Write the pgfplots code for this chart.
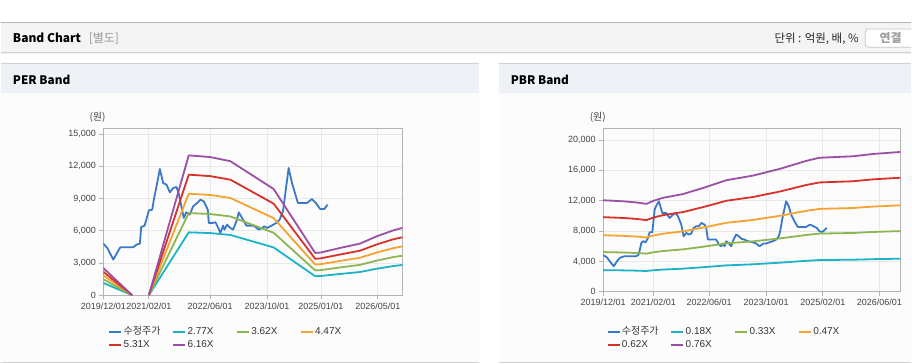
\documentclass[border=0pt]{standalone}
\usepackage{fontspec}
\setmainfont{Liberation Sans}
\newfontfamily\kr{Noto Sans CJK KR}
\usepackage{pgfplots}
\pgfplotsset{compat=1.18}
\usepackage{pgfplotstable}

\definecolor{cprice}{HTML}{3A78C8}
\definecolor{cbA}{HTML}{1CB3C8}
\definecolor{cbB}{HTML}{8DB650}
\definecolor{cbC}{HTML}{F5A431}
\definecolor{cbD}{HTML}{D6312B}
\definecolor{cbE}{HTML}{9A50A5}
\definecolor{gridc}{HTML}{E8E8E8}
\definecolor{axc}{HTML}{B4B4B4}
\definecolor{tickc}{HTML}{444444}
\definecolor{legc}{HTML}{333333}
\definecolor{hdrbg}{HTML}{F4F4F4}
\definecolor{panbg}{HTML}{EEF2F7}
\definecolor{bodybg}{HTML}{FCFCFC}
\definecolor{linec}{HTML}{D2D2D2}

% PER: price (x in months from 2019/12, value in won)
\pgfplotstableread{
m v
0 4803
1.12 4400
2.8 3316
4.67 4400
4.86 4463
8.41 4463
9.35 4710
10.28 4803
10.65 6353
11.59 6477
12.15 7097
12.8 7902
13.74 7964
14.2 8894
14.95 10134
15.89 11745
16.82 10444
17.76 10289
18.69 9576
19.63 9979
20.56 10072
21.2 9452
22.6 7190
23.27 7717
24.3 7500
25.23 8274
26.36 8584
27.29 8894
28.22 8739
28.69 8429
29.35 7964
29.63 6725
30.56 6725
31.5 6787
32.43 6167
32.9 5795
33.64 6477
34.02 6105
34.77 6570
35.7 6260
36.45 6105
37.57 7035
38.04 7717
38.97 7190
40.19 6477
42.24 6477
43.64 6105
44.58 6260
45.23 6415
45.98 6260
46.92 6415
48.6 6725
49.53 7035
50.47 7809
52.06 11838
52.99 10444
54.67 8584
57.2 8584
58.6 8956
59.53 8646
60.93 8026
62.06 8026
62.99 8429
}\perprice

% PER bands
\pgfplotstableread{
m a b c d e
0 1141 1491 1842 2188 2538
8.1 0 0 0 0 0
9 nan nan nan nan nan
12.8 0 0 0 0 0
24.0 5853 7649 9445 11220 13016
30.0 5784 7559 9333 11087 12862
35.7 5609 7331 9052 10753 12474
47.85 4446 5810 7174 8523 9887
59.5 1770 2313 2856 3393 3936
61.0 1787 2335 2883 3425 3973
66.5 1978 2585 3192 3791 4398
72.1 2161 2824 3487 4142 4805
76.8 2465 3222 3978 4726 5482
81.5 2717 3551 4385 5209 6043
84 2814 3678 4542 5395 6259
}\perband

% PBR: price
\pgfplotstableread{
m v
0 4825
0.94 4605
1.88 4035
3.01 3377
3.95 4035
4.70 4474
6.11 4693
7.53 4693
9.41 4693
10.07 4912
10.82 6447
11.29 6667
12.04 6535
12.70 7105
13.17 7851
13.92 7851
14.58 10833
15.05 11360
15.80 11930
16.18 11272
16.75 10395
17.87 10395
18.81 9737
19.76 10176
20.51 10395
21.17 9956
22.11 8860
22.77 7325
23.52 7763
24.27 7544
24.93 7676
25.59 8421
26.34 8640
27.09 8640
27.75 9079
28.69 8860
29.16 8421
29.63 6886
31.04 6886
31.98 6886
32.74 6228
33.40 6009
33.87 6360
34.34 6009
34.81 6667
35.56 6360
36.22 6009
36.88 6886
37.63 7544
38.38 7325
39.13 6974
39.98 6886
40.92 6667
42.33 6535
43.27 6360
44.21 6009
45.34 6360
46.10 6360
47.04 6535
47.98 6667
48.92 6886
49.67 7325
50.05 7983
50.80 9956
51.74 11930
52.49 11272
53.15 10176
54.09 9298
55.03 8553
57.38 8553
58.51 8860
59.45 8640
60.39 8421
61.15 7983
61.90 7895
62.56 8114
63.22 8421
}\pbrprice

% PBR bands
\pgfplotstableread{
m a b c d e
0 2858 5240 7464 9846 12069
5.64 2826 5181 7379 9734 11932
9.41 2790 5115 7285 9610 11780
12.23 2745 5033 7168 9455 11590
14.11 2835 5198 7403 9765 11970
16.93 2934 5379 7661 10106 12388
22.58 3051 5594 7967 10509 12882
28.22 3240 5940 8460 11160 13680
34.81 3483 6386 9095 11997 14706
42.33 3627 6650 9471 12493 15314
49.86 3834 7029 10011 13206 16188
57.38 4086 7491 10669 14074 17252
61.15 4185 7673 10928 14415 17670
70.56 4230 7755 11045 14570 17860
76.2 4302 7887 11233 14818 18164
84 4365 8003 11398 15035 18430
}\pbrband

\pgfplotsset{
  bandax/.style={
    scale only axis, xmin=0, xmax=84, ymin=0,
    grid=major, major grid style={draw=gridc, line width=0.8pt},
    axis line style={draw=axc, line width=0.8pt},
    tick style={draw=axc, line width=0.8pt},
    tick pos=left, tick align=outside, major tick length=4pt,
    scaled y ticks=false,
    ticklabel style={font=\fontsize{9}{10}\selectfont, text=tickc},
    /pgf/number format/assume math mode=true,
    /pgf/number format/1000 sep={,},
    unbounded coords=jump,
    legend columns=4,
    legend image code/.code={\draw[line width=2pt] (0pt,0pt) -- (12pt,0pt);},
    legend style={draw=none, fill=none, inner sep=0pt, anchor=north west,
      font=\fontsize{10}{12}\selectfont, text=legc,
      cells={anchor=west},
      nodes={text width=47.3pt, inner xsep=1.3pt, inner ysep=0pt, text height=8pt, text depth=2.3pt},
      row sep=3pt},
    every axis plot/.append style={line width=1.8pt, line join=round},
  }
}

\begin{document}
\begin{tikzpicture}[x=1pt,y=1pt]
\fill[white] (0pt,0pt) rectangle (912pt,364pt);
% top header
\fill[hdrbg] (0pt,311.7pt) rectangle (912pt,341.7pt);
\draw[gray!55, line width=1pt] (0pt,341.7pt) -- (912pt,341.7pt);
\draw[linec, line width=1pt] (0pt,311.4pt) -- (912pt,311.4pt);
\draw[gray!12, line width=1.5pt] (0pt,310.2pt) -- (912pt,310.2pt);
\node[anchor=west, font=\kr\bfseries\fontsize{12}{12}\selectfont, inner sep=0pt] at (12pt,326pt) {Band Chart};
\node[anchor=west, font=\kr\fontsize{12}{12}\selectfont, text=gray!80, inner sep=0pt] at (88pt,325.5pt) {[별도]};
\node[anchor=east, font=\kr\fontsize{11.5}{12}\selectfont, text=black!85, inner sep=0pt] at (859.5pt,325.5pt) {단위 : 억원, 배, \%};
\begin{scope}
\clip (0pt,0pt) rectangle (912pt,364pt);
\draw[gray!45, fill=white, rounded corners=3pt, line width=0.8pt] (866pt,316.7pt) rectangle (925pt,335pt);
\end{scope}
\node[anchor=west, font=\kr\bfseries\fontsize{12}{12}\selectfont, text=gray!75, inner sep=0pt] at (880pt,325.8pt) {연결};
% panels
\fill[bodybg] (0pt,1.3pt) rectangle (479pt,271.3pt);
\fill[panbg] (0pt,271.3pt) rectangle (479pt,300pt);
\draw[linec, line width=1pt] (0pt,300pt) -- (479pt,300pt);
\draw[linec, line width=1pt] (0pt,1.3pt) -- (479pt,1.3pt);
\fill[bodybg] (499.3pt,1.3pt) rectangle (912pt,271.3pt);
\fill[panbg] (499.3pt,271.3pt) rectangle (912pt,300pt);
\draw[linec, line width=1pt] (499.3pt,300pt) -- (912pt,300pt);
\draw[linec, line width=1pt] (499.3pt,1.3pt) -- (912pt,1.3pt);
\node[anchor=west, font=\kr\bfseries\fontsize{11.8}{12}\selectfont, inner sep=0pt] at (12pt,284pt) {PER Band};
\node[anchor=west, font=\kr\bfseries\fontsize{11.8}{12}\selectfont, inner sep=0pt] at (510.7pt,284pt) {PBR Band};
% unit labels
\node[font=\kr\fontsize{10}{10}\selectfont, text=tickc, inner sep=0pt] at (97pt,246pt) {(원)};
\node[font=\kr\fontsize{10}{10}\selectfont, text=tickc, inner sep=0pt] at (598pt,246pt) {(원)};

% PER axis
\begin{axis}[bandax, at={(102.7pt,68.3pt)}, anchor=south west,
  width=299.6pt, height=167.4pt, ymax=15557,
  ytick={0,3000,6000,9000,12000,15000},
  xtick={0,12.78,30,45.98,61.12,77.1},
  xticklabels={2019/12/01,2021/02/01,2022/06/01,2023/10/01,2025/01/01,2026/05/01},
  legend style={at={(0.0167,-0.187)}}]
\addplot[cprice] table[x=m,y=v] {\perprice};
\addlegendentry{\kr 수정주가}
\addplot[cbA] table[x=m,y=a] {\perband};
\addlegendentry{2.77X}
\addplot[cbB] table[x=m,y=b] {\perband};
\addlegendentry{3.62X}
\addplot[cbC] table[x=m,y=c] {\perband};
\addlegendentry{4.47X}
\addplot[cbD] table[x=m,y=d] {\perband};
\addlegendentry{5.31X}
\addplot[cbE] table[x=m,y=e] {\perband};
\addlegendentry{6.16X}
\end{axis}

% PBR axis
\begin{axis}[bandax, at={(603.3pt,71.7pt)}, anchor=south west,
  width=297.7pt, height=164pt, ymax=21579,
  ytick={0,4000,8000,12000,16000,20000},
  xtick={0,14.2,30,46.1,62.1,78.1},
  xticklabels={2019/12/01,2021/02/01,2022/06/01,2023/10/01,2025/02/01,2026/06/01},
  legend style={at={(0.0114,-0.211)}}]
\addplot[cprice] table[x=m,y=v] {\pbrprice};
\addlegendentry{\kr 수정주가}
\addplot[cbA] table[x=m,y=a] {\pbrband};
\addlegendentry{0.18X}
\addplot[cbB] table[x=m,y=b] {\pbrband};
\addlegendentry{0.33X}
\addplot[cbC] table[x=m,y=c] {\pbrband};
\addlegendentry{0.47X}
\addplot[cbD] table[x=m,y=d] {\pbrband};
\addlegendentry{0.62X}
\addplot[cbE] table[x=m,y=e] {\pbrband};
\addlegendentry{0.76X}
\end{axis}
\end{tikzpicture}
\end{document}
